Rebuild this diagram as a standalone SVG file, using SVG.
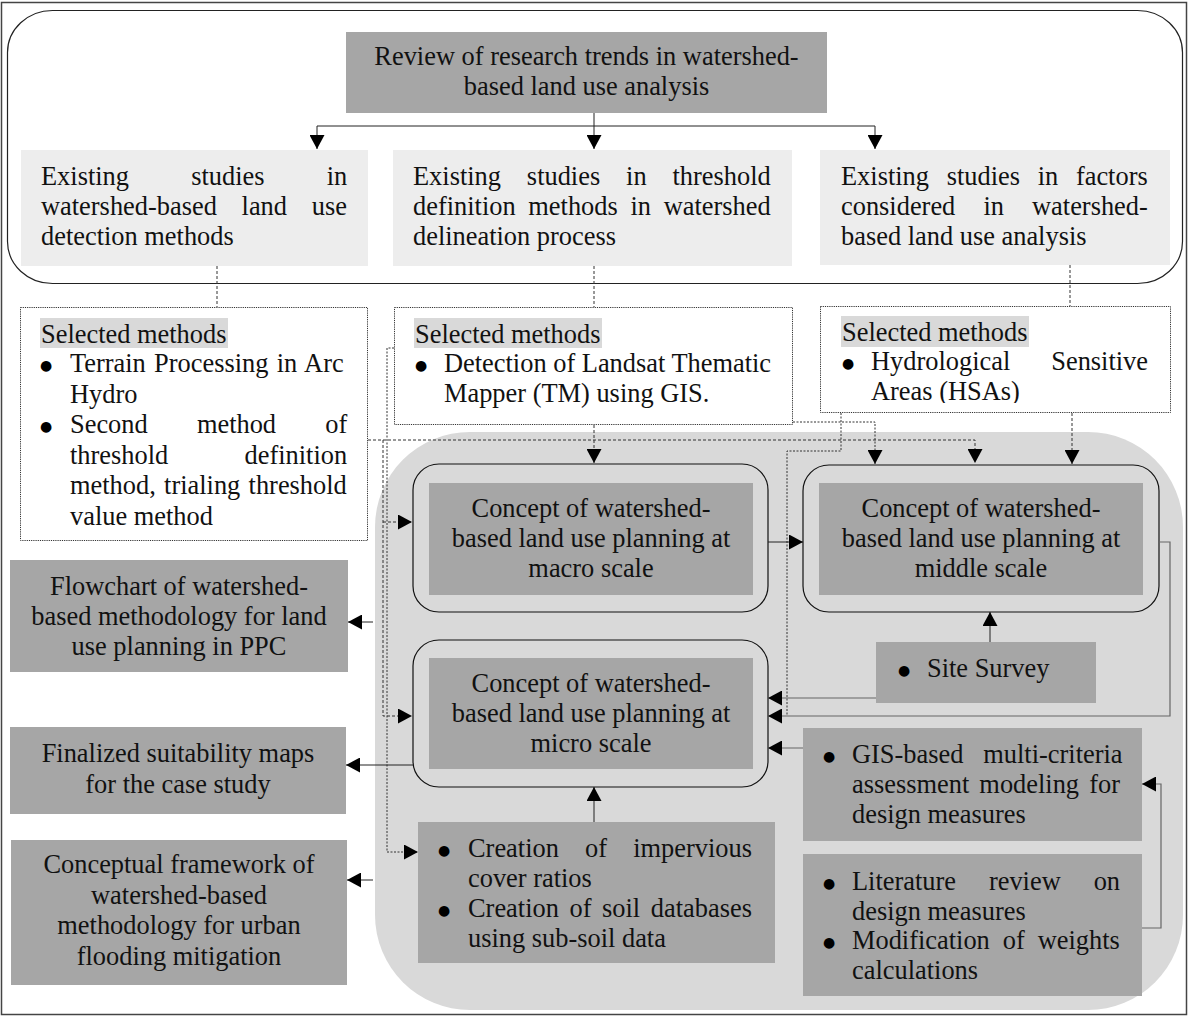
<svg xmlns="http://www.w3.org/2000/svg" width="1189" height="1017" viewBox="0 0 1189 1017">
<style>
.t{font-family:"Liberation Serif","Times New Roman",serif;font-size:26.4px;fill:#111;}
.m{text-anchor:middle;}
.b{font-family:"DejaVu Sans",sans-serif;font-size:14px;fill:#000;text-anchor:middle;}
.dark{fill:#a6a6a6;}
.light{fill:#ededed;}
.hl{fill:#d9d9d9;}
.sel{fill:#fff;stroke:#333;stroke-width:1;stroke-dasharray:1.2,1;}
.rb{fill:none;stroke:#111;stroke-width:1.2;}
.c{fill:none;stroke:#222;stroke-width:1;}
.cg{fill:none;stroke:#666;stroke-width:1.2;}
.d{fill:none;stroke:#333;stroke-width:1;stroke-dasharray:3,2;}
.dd{fill:none;stroke:#333;stroke-width:1;stroke-dasharray:2,1.5;}
.ah{marker-end:url(#arr);}
</style>
<defs>
<marker id="arr" markerUnits="userSpaceOnUse" markerWidth="15" markerHeight="15" refX="14" refY="7.5" orient="auto">
<path d="M0,0 L14,7.5 L0,15 z" fill="#000"/>
</marker>
<clipPath id="clip3"><rect x="820" y="306" width="351" height="97"/></clipPath>
</defs>

<rect x="1.5" y="2.5" width="1185" height="1012" fill="#fff" stroke="#444" stroke-width="1.5"/>
<rect x="7.5" y="10.5" width="1175" height="273" rx="45" ry="42" fill="#fff" stroke="#222" stroke-width="1.2"/>
<rect x="375" y="432" width="808" height="578" rx="95" ry="95" fill="#d9d9d9"/>

<g id="review">
<rect class="dark" x="346" y="32" width="481" height="81"/>
<text class="t m" x="586.5" y="65">Review of research trends in watershed-</text>
<text class="t m" x="586.5" y="95">based land use analysis</text>
</g>

<g id="existing1">
<rect class="light" x="21" y="150" width="347" height="116"/>
<text class="t" x="41" y="185" style="word-spacing:55.6px">Existing studies in</text>
<text class="t" x="41" y="215" style="word-spacing:18.1px">watershed-based land use</text>
<text class="t" x="41" y="245">detection methods</text>
</g>

<g id="existing2">
<rect class="light" x="393" y="150" width="399" height="116"/>
<text class="t" x="413" y="185" style="word-spacing:19.3px">Existing studies in threshold</text>
<text class="t" x="413" y="215" style="word-spacing:6.1px">definition methods in watershed</text>
<text class="t" x="413" y="245">delineation process</text>
</g>

<g id="existing3">
<rect class="light" x="820" y="150" width="350" height="115"/>
<text class="t" x="841" y="185" style="word-spacing:11.1px">Existing studies in factors</text>
<text class="t" x="841" y="215" style="word-spacing:21.5px">considered in watershed-</text>
<text class="t" x="841" y="245">based land use analysis</text>
</g>

<g id="selected1">
<rect class="sel" x="20.5" y="307.5" width="347" height="233"/>
<rect class="hl" x="40" y="318" width="188" height="30"/>
<text class="t" x="41" y="343">Selected methods</text>
<text class="b" x="46" y="370">●</text>
<text class="t" x="70" y="372" style="word-spacing:1.7px">Terrain Processing in Arc</text>
<text class="t" x="70" y="402.5">Hydro</text>
<text class="b" x="46" y="431">●</text>
<text class="t" x="70" y="433" style="word-spacing:42.6px">Second method of</text>
<text class="t" x="70" y="463.5" style="word-spacing:69.7px">threshold definition</text>
<text class="t" x="70" y="494" style="word-spacing:1.7px">method, trialing threshold</text>
<text class="t" x="70" y="524.5">value method</text>
</g>

<g id="selected2">
<rect class="sel" x="394.5" y="307.5" width="398" height="117"/>
<rect class="hl" x="414" y="318" width="188" height="30"/>
<text class="t" x="415" y="343">Selected methods</text>
<text class="b" x="421" y="370">●</text>
<text class="t" x="444" y="372">Detection of Landsat Thematic</text>
<text class="t" x="444" y="402">Mapper (TM) using GIS.</text>
</g>

<g id="selected3">
<rect class="sel" x="820.5" y="306.5" width="350" height="106"/>
<rect class="hl" x="841" y="316" width="188" height="31"/>
<text class="t" x="842" y="341">Selected methods</text>
<text class="b" x="848" y="368">●</text>
<text class="t" x="871" y="370" style="word-spacing:34.4px">Hydrological Sensitive</text>
<text class="t" x="871" y="400" clip-path="url(#clip3)">Areas (HSAs)</text>
</g>

<g id="macro">
<rect class="rb" x="413" y="464" width="355" height="148" rx="26" ry="26"/>
<rect class="dark" x="429" y="483" width="324" height="112"/>
<text class="t m" x="591" y="517">Concept of watershed-</text>
<text class="t m" x="591" y="547">based land use planning at</text>
<text class="t m" x="591" y="577">macro scale</text>
</g>

<g id="middle">
<rect class="rb" x="803" y="465" width="356" height="147" rx="26" ry="26"/>
<rect class="dark" x="819" y="483" width="324" height="112"/>
<text class="t m" x="981" y="517">Concept of watershed-</text>
<text class="t m" x="981" y="547">based land use planning at</text>
<text class="t m" x="981" y="577">middle scale</text>
</g>

<g id="micro">
<rect class="rb" x="413" y="640" width="355" height="147" rx="26" ry="26"/>
<rect class="dark" x="429" y="658" width="324" height="111"/>
<text class="t m" x="591" y="692">Concept of watershed-</text>
<text class="t m" x="591" y="722">based land use planning at</text>
<text class="t m" x="591" y="752">micro scale</text>
</g>

<g id="flowchart">
<rect class="dark" x="10" y="560" width="338" height="112"/>
<text class="t m" x="179" y="595">Flowchart of watershed-</text>
<text class="t m" x="179" y="625">based methodology for land</text>
<text class="t m" x="179" y="655">use planning in PPC</text>
</g>

<g id="finalized">
<rect class="dark" x="10" y="727" width="336" height="87"/>
<text class="t m" x="178" y="762">Finalized suitability maps</text>
<text class="t m" x="178" y="793">for the case study</text>
</g>

<g id="conceptual">
<rect class="dark" x="11" y="840" width="336" height="145"/>
<text class="t m" x="179" y="873">Conceptual framework of</text>
<text class="t m" x="179" y="903.5">watershed-based</text>
<text class="t m" x="179" y="934">methodology for urban</text>
<text class="t m" x="179" y="964.5">flooding mitigation</text>
</g>

<g id="impervious">
<rect class="dark" x="418" y="822" width="357" height="141"/>
<text class="b" x="444" y="855">●</text>
<text class="t" x="468" y="857" style="word-spacing:19.6px">Creation of impervious</text>
<text class="t" x="468" y="887">cover ratios</text>
<text class="b" x="444" y="915">●</text>
<text class="t" x="468" y="917" style="word-spacing:4px">Creation of soil databases</text>
<text class="t" x="468" y="947">using sub-soil data</text>
</g>

<g id="sitesurvey">
<rect class="dark" x="876" y="642" width="220" height="61"/>
<text class="b" x="904" y="675">●</text>
<text class="t" x="927" y="677">Site Survey</text>
</g>

<g id="gis">
<rect class="dark" x="803" y="728" width="339" height="113"/>
<text class="b" x="829" y="761">●</text>
<text class="t" x="852" y="763" style="word-spacing:13.3px">GIS-based multi-criteria</text>
<text class="t" x="852" y="793" style="word-spacing:3.5px">assessment modeling for</text>
<text class="t" x="852" y="823">design measures</text>
</g>

<g id="literature">
<rect class="dark" x="803" y="854" width="339" height="142"/>
<text class="b" x="829" y="888">●</text>
<text class="t" x="852" y="890" style="word-spacing:26.3px">Literature review on</text>
<text class="t" x="852" y="919.5">design measures</text>
<text class="b" x="829" y="947">●</text>
<text class="t" x="852" y="949" style="word-spacing:6.4px">Modification of weights</text>
<text class="t" x="852" y="978.5">calculations</text>
</g>

<g id="connectors">
<path class="c" d="M594,113 V149" stroke="#666" style="marker-end:url(#arr)"/>
<path class="c" d="M317,126 H875"/>
<path class="c ah" d="M317,126 V149"/>
<path class="c ah" d="M875,126 V149"/>
<path class="d" d="M217,266 V307"/>
<path class="d" d="M594,266 V307"/>
<path class="d" d="M1070,265 V306"/>
<path class="d ah" d="M368,440 H975 V463"/>
<path class="d ah" d="M383,440 V716 H412"/>
<path class="d ah" d="M383,522 H412"/>
<path class="dd ah" d="M394,348 H387 V852 H418"/>
<path class="d ah" d="M594,425 V463"/>
<path class="dd ah" d="M793,422 H875 V464"/>
<path class="dd" d="M841,413 V451 H787 V716"/>
<path class="d ah" d="M1072,413 V464"/>
<path class="c ah" d="M768,542 H803"/>
<path class="cg ah" d="M1159,542 H1170 V716 H768"/>
<path class="c ah" d="M990,642 V612"/>
<path class="cg ah" d="M876,698 H768"/>
<path class="cg ah" d="M803,748 H768"/>
<path class="cg ah" d="M1142,928 H1161 V784 H1142"/>
<path class="c ah" d="M594,822 V787"/>
<path class="c ah" d="M413,765 H346"/>
<path class="c ah" d="M373,622 H348"/>
<path class="c ah" d="M373,880 H347"/>
</g>
</svg>
